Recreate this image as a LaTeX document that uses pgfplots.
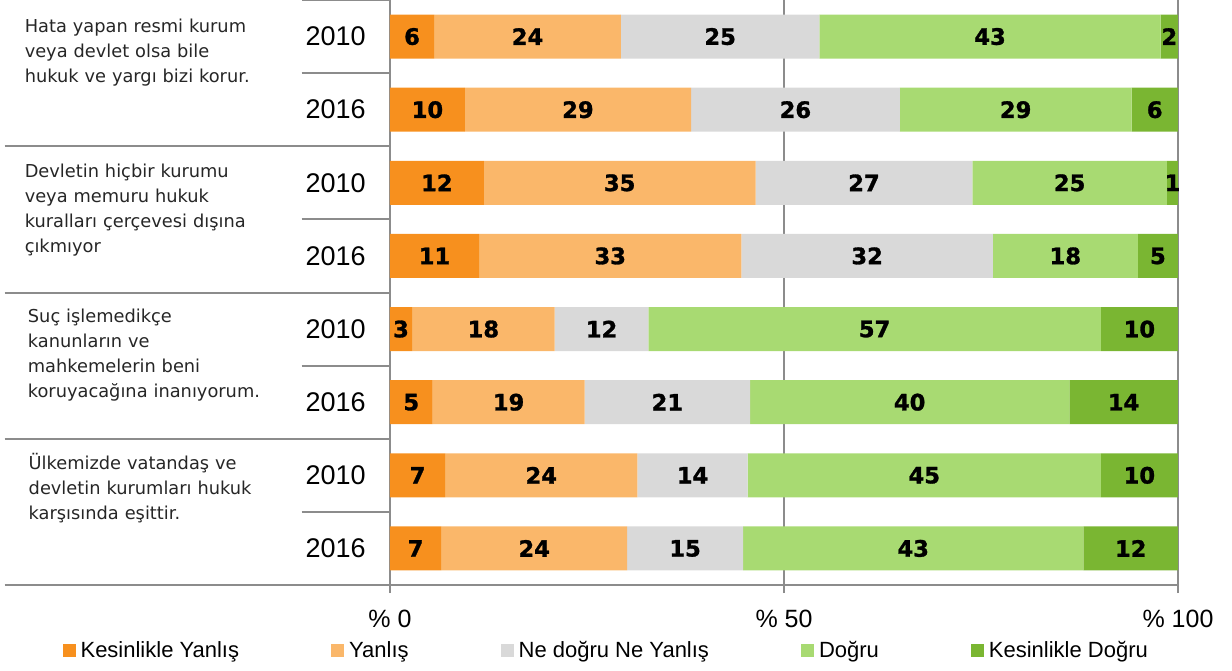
\documentclass[border=0pt]{standalone}
\usepackage{pgfplots}
\pgfplotsset{compat=1.18}
\usepackage{pgfplotstable}
\usepackage{fontspec}
\setmainfont{Liberation Sans}
\newfontfamily\dejavu{DejaVu Sans}
\newfontfamily\heavy[FakeBold=1.3]{DejaVu Sans Bold}
\definecolor{cKY}{HTML}{F7901E}
\definecolor{cY}{HTML}{FAB76A}
\definecolor{cN}{HTML}{D9D9D9}
\definecolor{cD}{HTML}{A8DA72}
\definecolor{cKD}{HTML}{7AB632}
\definecolor{ln}{HTML}{8C8C8C}

% rows: y=8 top (group 1, 2010) ... y=1 bottom (group 4, 2016)
\pgfplotstableread{
y val lab
8 5.6 6
7 9.5 10
6 11.9 12
5 11.3 11
4 2.8 3
3 5.4 5
2 7.0 7
1 6.5 7
}\dKY
\pgfplotstableread{
y val lab
8 23.7 24
7 28.7 29
6 34.5 35
5 33.3 33
4 18.1 18
3 19.3 19
2 24.4 24
1 23.6 24
}\dY
\pgfplotstableread{
y val lab
8 25.2 25
7 26.5 26
6 27.5 27
5 31.9 32
4 11.9 12
3 21.0 21
2 14.0 14
1 14.7 15
}\dN
\pgfplotstableread{
y val lab
8 43.3 43
7 29.4 29
6 24.7 25
5 18.4 18
4 57.4 57
3 40.5 40
2 44.8 45
1 43.2 43
}\dD
\pgfplotstableread{
y val lab
8 2.2 2
7 5.9 6
6 1.4 1
5 5.1 5
4 9.8 10
3 13.8 14
2 9.8 10
1 12.0 12
}\dKD

\begin{document}
\begin{tikzpicture}
\useasboundingbox (-195pt,-42.5pt) rectangle (421pt,292.5pt);
\begin{axis}[
  at={(0,0)}, anchor=south west,
  scale only axis, width=394pt, height=292.5pt,
  xbar stacked, bar width=22pt,
  xmin=0, xmax=100, ymin=0.5, ymax=8.5,
  axis x line*=bottom, axis y line*=left,
  axis line style={draw=ln, line width=1pt, -},
  xtick={0,50,100}, xticklabels={\% 0,\% 50,\% 100},
  xmajorgrids, grid style={draw=ln, line width=1pt},
  ytick={1,2,3,4,5,6,7,8},
  yticklabels={2016,2010,2016,2010,2016,2010,2016,2010},
  tick align=outside, major tick length=4pt,
  x tick style={draw=ln, line width=1pt},
  y tick style={draw=none},
  xticklabel style={font=\fontsize{12.5}{14}\selectfont, anchor=base, yshift=-17pt},
  yticklabel style={font=\fontsize{13.5}{16}\selectfont, anchor=east, inner sep=0pt, xshift=-8pt},
  clip=false,
  point meta=explicit symbolic,
  nodes near coords,
  nodes near coords style={font=\heavy\fontsize{11.3}{13}\selectfont, anchor=center, text=black},
  legend columns=5,
  legend style={at={(-0.416,-0.1128)}, anchor=west, draw=none, fill=none, inner sep=0pt,
    font=\fontsize{11}{13}\selectfont,
    nodes={inner sep=0pt},
    /tikz/every odd column/.append style={column sep=2.5pt},
    /tikz/every even column/.append style={column sep=46pt}},
  legend image code/.code={\fill[#1] (0pt,-3.25pt) rectangle (6.5pt,3.25pt);},
]
\addplot[fill=cKY, draw=none] table[x=val, y=y, meta=lab] {\dKY};
\addplot[fill=cY, draw=none] table[x=val, y=y, meta=lab] {\dY};
\addplot[fill=cN, draw=none] table[x=val, y=y, meta=lab] {\dN};
\addplot[fill=cD, draw=none] table[x=val, y=y, meta=lab] {\dD};
\addplot[fill=cKD, draw=none] table[x=val, y=y, meta=lab] {\dKD};
\legend{Kesinlikle Yanlış, Yanlış, Ne doğru Ne Yanlış, Doğru, Kesinlikle Doğru}

% table-like separators on the left
\draw[ln, line width=1pt] (axis cs:-48.9,6.5) -- (axis cs:0,6.5);
\draw[ln, line width=1pt] (axis cs:-48.9,4.5) -- (axis cs:0,4.5);
\draw[ln, line width=1pt] (axis cs:-48.9,2.5) -- (axis cs:0,2.5);
\draw[ln, line width=1pt] (axis cs:-48.9,0.5) -- (axis cs:0,0.5);
\draw[ln, line width=1pt] (axis cs:-11.2,8.5) -- (axis cs:0,8.5);
\draw[ln, line width=1pt] (axis cs:-11.2,7.5) -- (axis cs:0,7.5);
\draw[ln, line width=1pt] (axis cs:-11.2,5.5) -- (axis cs:0,5.5);
\draw[ln, line width=1pt] (axis cs:-11.2,3.5) -- (axis cs:0,3.5);
\draw[ln, line width=1pt] (axis cs:-11.2,1.5) -- (axis cs:0,1.5);

% group labels
\tikzset{grp/.style={anchor=base west, inner sep=0pt, align=left, text width=125pt,
  font=\dejavu\fontsize{8.9}{12.5}\selectfont, text=black!85}}
\node[grp, yshift=-16pt] at (axis cs:-46.4,8.5) {Hata yapan resmi kurum\\veya devlet olsa bile\\hukuk ve yargı bizi korur.};
\node[grp, yshift=-15.5pt] at (axis cs:-46.4,6.5) {Devletin hiçbir kurumu\\veya memuru hukuk\\kuralları çerçevesi dışına\\çıkmıyor};
\node[grp, yshift=-15pt] at (axis cs:-46.0,4.5) {Suç işlemedikçe\\kanunların ve\\mahkemelerin beni\\koruyacağına inanıyorum.};
\node[grp, yshift=-15.5pt] at (axis cs:-45.9,2.5) {Ülkemizde vatandaş ve\\devletin kurumları hukuk\\karşısında eşittir.};
\end{axis}
\end{tikzpicture}
\end{document}
